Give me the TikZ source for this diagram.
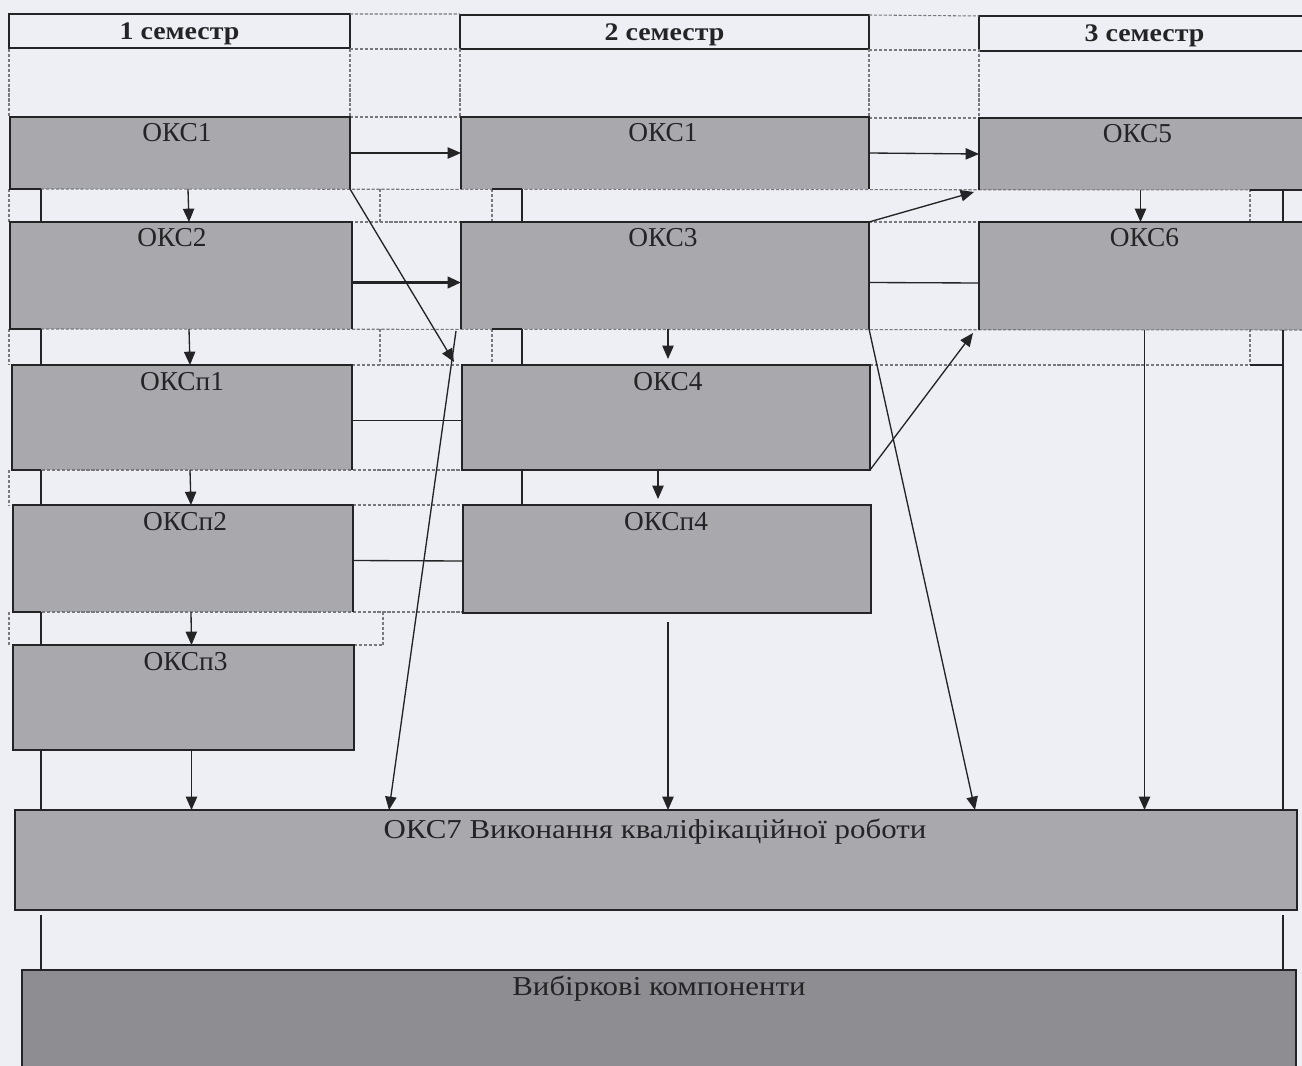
\documentclass[tikz,border=0pt]{standalone}
\usepackage{fontspec}
\setmainfont{Liberation Serif}
\newfontfamily\widefont[FakeStretch=1.13]{Liberation Serif}
\newfontfamily\semfont[FakeStretch=1.1]{Liberation Serif}
\usetikzlibrary{calc,fit,arrows.meta}
\definecolor{paper}{RGB}{237,239,244}
\definecolor{boxgray}{RGB}{168,168,173}
\definecolor{vybgray}{RGB}{141,141,146}
\definecolor{gridgray}{RGB}{120,120,126}
\definecolor{ink}{RGB}{36,36,38}
\tikzset{
  sem/.style={fill=paper, draw=ink, line width=1.3pt, inner sep=0pt},
  okc/.style={fill=boxgray, inner sep=0pt},
  okcframe/.style={draw=ink, line width=1.5pt, line join=miter},
  lbl/.style={anchor=base, inner sep=0pt, text=ink, font=\fontsize{20.5}{24}\selectfont},
  widelbl/.style={lbl, font=\widefont\fontsize{20.5}{24}\selectfont},
  semlbl/.style={lbl, font=\semfont\bfseries\fontsize{19}{22}\selectfont},
  link/.style={draw=ink, line width=1pt, -{Triangle[length=10pt,width=8.5pt]}},
  plain/.style={draw=ink, line width=1pt},
  grid/.style={draw=gridgray, line width=0.8pt, dash pattern=on 2.4pt off 1.3pt},
}
\begin{document}
\begin{tikzpicture}[y=0.75pt, x=0.75pt, yscale=-1, inner sep=0pt, outer sep=0pt]
  \path[fill=paper] (0,0) rectangle (1302,1066);
  \useasboundingbox (0,0) rectangle (1302,1066);

  \node[sem, fit={(9,14) (350,48)}] (sem1) {};
  \node[sem, fit={(460,15) (869,49)}] (sem2) {};
  \node[sem, fit={(979,16) (1310,51)}] (sem3) {};

  \node[okc, fit={(10,117) (350,189)}] (okc1a) {};
  \node[okc, fit={(10,222) (352,329)}] (okc2) {};
  \node[okc, fit={(12,365) (352,470)}] (okcp1) {};
  \node[okc, fit={(13,505) (353,612)}] (okcp2) {};
  \node[okc, fit={(13,645) (354,750)}] (okcp3) {};
  \node[okc, fit={(461,117) (869,189)}] (okc1b) {};
  \node[okc, fit={(461,222) (869,329)}] (okc3) {};
  \node[okc, fit={(462,365) (870,470)}] (okc4) {};
  \node[okc, fit={(463,505) (871,613)}] (okcp4) {};
  \node[okc, fit={(979,118) (1310,190)}] (okc5) {};
  \node[okc, fit={(979,222) (1310,330)}] (okc6) {};
  \node[okc, fit={(15,810) (1297,910)}] (okc7) {};
  \node[okc, fill=vybgray, fit={(22,970) (1296,1080)}] (vyb) {};

  \coordinate (spl) at (41,0);
  \coordinate (spm) at (522,0);
  \coordinate (spr) at (1283,0);

  % table grid
  \draw[grid] (350,14) -- (460,14) (869,15) -- (979,16);
  \draw[grid] (350,49) -- (460,49) (869,50) -- (979,50);
  \draw[grid] (350,117) -- (461,117) (869,118) -- (979,118);
  \foreach \x in {9,350,460,869,979}
    \draw[grid] (\x,49) -- (\x,117);
  \draw[grid] (41,189) -- (1302,190);
  \draw[grid] (350,222) -- (461,222) (869,222) -- (979,222);
  \draw[grid] (41,329) -- (1302,330);
  \draw[grid] (352,365) -- (462,365) (870,365) -- (1250,365);
  \draw[grid] (42,470) -- (523,470);
  \draw[grid] (353,505) -- (463,505);
  \draw[grid] (42,612) -- (463,612);
  \draw[grid] (354,645) -- (383,645);
  \foreach \y/\z in {189/222,329/365,470/505,612/645}
    \draw[grid] (9,\y) -- (9,\z);
  \foreach \y/\z in {189/222,329/365}
    \draw[grid] (380,\y) -- (380,\z) (492,\y) -- (492,\z) (1250,\y) -- (1250,\z);
  \draw[grid] (383,612) -- (383,645);

  \foreach \b in {okc1a,okc2,okcp1,okcp2}
    \draw[okcframe] (spl |- \b.south) -- (\b.south west) |- (\b.north east) -- (\b.south east);
  \foreach \b in {okc1b,okc3,okc5,okc6}
    \draw[okcframe] (\b.south west) |- (\b.north east) -- (\b.south east);
  \foreach \b in {okcp3,okc4,okcp4,okc7,vyb}
    \draw[okcframe] (\b.south west) rectangle (\b.north east);

  \foreach \a/\b in {okc1a/okc2,okc2/okcp1,okcp1/okcp2,okcp2/okcp3,okcp3/okc7}
    \draw[plain] (spl |- \a.south) -- (spl |- \b.north);
  \foreach \a/\b in {okc1b/okc3,okc3/okc4,okc4/okcp4}
    \draw[plain] (spm |- \a.south) -- (spm |- \b.north);
  \foreach \a in {okc1b,okc3}
    \draw[plain] ($(spm |- \a.south)+(-30,0)$) -- (spm |- \a.south);
  \draw[plain] ($(spr |- okc5.south)+(-33,0)$) -- ($(spr |- okc5.south)+(20,0)$);
  \draw[plain] (spr |- okc5.south) -- (spr |- okc6.north);
  \draw[plain] (spr |- okc6.south) -- (spr |- okc7.north);
  \draw[plain] ($(spr |- okc4.north)+(-33,0)$) -- (spr |- okc4.north);
  \draw[plain] ($(spl |- okc7.south)+(0,5)$) -- (spl |- vyb.north);
  \draw[plain] ($(spr |- okc7.south)+(0,5)$) -- (spr |- vyb.north);

  \draw[link] (okc1a.east) -- (okc1b.west);
  \draw[link] (okc1b.east) -- (okc5.west);
  \draw[link] ($(okc1a.south)+(8,0)$) -- ($(okc2.north)+(8,0)$);
  \draw[link] ($(okc2.south)+(8,0)$) -- ($(okcp1.north)+(8,0)$);
  \draw[link] ($(okcp1.south)+(8,0)$) -- ($(okcp2.north)+(8,0)$);
  \draw[link] ($(okcp2.south)+(8,0)$) -- ($(okcp3.north)+(8,0)$);
  \draw[link] ($(okcp3.south)+(8,0)$) -- ($(okcp3.south |- okc7.north)+(8,0)$);
  \draw[link, line width=2.2pt] ($(okc2.east)+(0,7)$) -- ($(okc3.west)+(0,7)$);
  \draw[plain] ($(okc3.east)+(0,7)$) -- ($(okc6.west)+(0,7)$);
  \draw[plain] ($(okcp1.east)+(0,3)$) -- ($(okc4.west)+(0,3)$);
  \draw[plain] ($(okcp2.east)+(0,2)$) -- ($(okcp4.west)+(0,2)$);
  \draw[link] ($(okc3.south)+(3,0)$) -- ($(okc3.south |- okc4.north)+(3,-6)$);
  \draw[link] ($(okc4.south)+(-8,0)$) -- ($(okc4.south |- okcp4.north)+(-8,-6)$);
  \draw[link, shorten <=7pt] ($(okcp4.south)+(1,0)$) -- ($(okcp4.south |- okc7.north)+(1,0)$);
  \draw[link] ($(okc5.south)+(-4,0)$) -- ($(okc5.south |- okc6.north)+(-4,0)$);
  \draw[link] (okc6.south) -- (okc6.south |- okc7.north);
  \draw[link] (okc3.north east) -- ($(okc5.south west)+(-5,2)$);
  \draw[link] (okc4.south east) -- ($(okc6.south west)+(-6,3)$);
  \draw[link] (okc1a.south east) -- ($(okc4.north west)+(-8,-3)$);
  \draw[link] ($(okc3.south west)+(-5,2)$) -- ($(okc7.north west)+(374,0)$);
  \draw[link] (okc3.south east) -- ($(okc7.north west)+(960,0)$);

  \node[semlbl] (sem1t) at ($(sem1.north)+(0,26)$) {1 семестр};
  \node[semlbl] (sem2t) at ($(sem2.north)+(0,26)$) {2 семестр};
  \node[semlbl] (sem3t) at ($(sem3.north)+(0,26)$) {3 семестр};
  \node[lbl] (okc1at) at ($(okc1a.north)+(-3,25)$) {ОКС1};
  \node[lbl] (okc2t) at ($(okc2.north)+(-9,25)$) {ОКС2};
  \node[lbl] (okcp1t) at ($(okcp1.north)+(0,25)$) {ОКСп1};
  \node[lbl] (okcp2t) at ($(okcp2.north)+(2,25)$) {ОКСп2};
  \node[lbl] (okcp3t) at ($(okcp3.north)+(2,25)$) {ОКСп3};
  \node[lbl] (okc1bt) at ($(okc1b.north)+(-2,25)$) {ОКС1};
  \node[lbl] (okc3t) at ($(okc3.north)+(-2,25)$) {ОКС3};
  \node[lbl] (okc4t) at ($(okc4.north)+(2,25)$) {ОКС4};
  \node[lbl] (okcp4t) at ($(okcp4.north)+(-1,25)$) {ОКСп4};
  \node[lbl] (okc5t) at ($(okc5.north)+(-7,25)$) {ОКС5};
  \node[lbl] (okc6t) at ($(okc6.north)+(0,25)$) {ОКС6};
  \node[widelbl] (okc7t) at ($(okc7.north)+(-1,28)$) {ОКС7 Виконання кваліфікаційної роботи};
  \node[widelbl] (vybt) at ($(vyb.north)+(0,25)$) {Вибіркові компоненти};
\end{tikzpicture}
\end{document}
